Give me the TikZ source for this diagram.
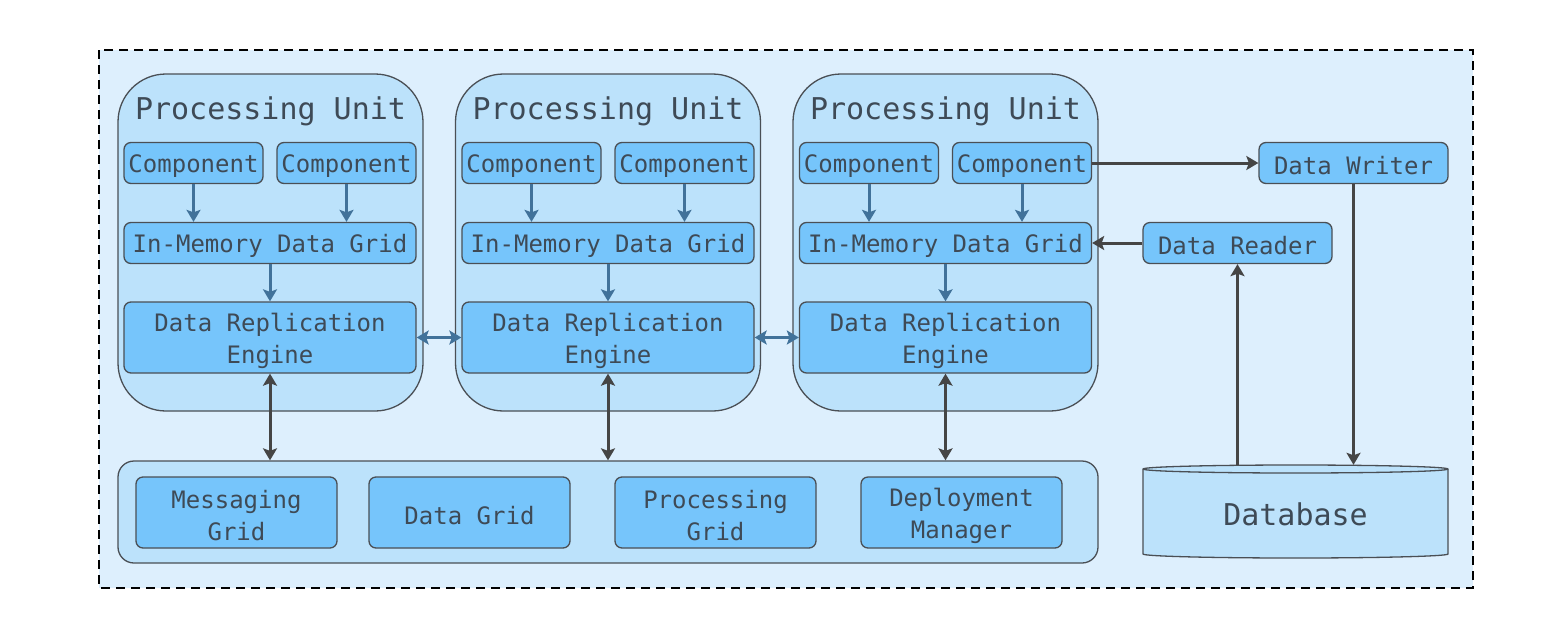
\documentclass[tikz,border=0pt]{standalone}
\usepackage{fontspec}
\setmonofont{DejaVu Sans Mono}
\usetikzlibrary{arrows.meta}
\definecolor{outerfill}{HTML}{DDEFFD}
\definecolor{pufill}{HTML}{BCE2FB}
\definecolor{boxfill}{HTML}{76C5FB}
\definecolor{edge}{HTML}{4A4F55}
\definecolor{txt}{HTML}{3E4A56}
\definecolor{flow}{HTML}{41729A}
\definecolor{dark}{HTML}{454545}
% text sits a little low in its box
\newcommand{\dn}[1]{\raisebox{-3pt}[\height][\depth]{#1}}
\begin{document}
\begin{tikzpicture}[x=1pt,y=-1pt,
  unit/.style={draw=edge,fill=pufill,line width=1.3pt,rounded corners=48pt,minimum width=305pt,minimum height=337pt},
  part/.style={draw=edge,fill=boxfill,line width=1.3pt,rounded corners=7pt,minimum height=41pt,font=\ttfamily\fontsize{24}{32}\selectfont,text=txt,inner sep=0pt,align=center},
  title/.style={font=\ttfamily\fontsize{30}{36}\selectfont,text=txt},
  flowarr/.style={flow,line width=3pt,>={Stealth[length=12pt,width=14pt,inset=2.5pt]}},
  darkarr/.style={dark,line width=3pt,>={Stealth[length=12pt,width=14pt,inset=2.5pt]}}]
\useasboundingbox (0,0) rectangle (1566,638);
\draw[fill=outerfill,draw=black,line width=1.8pt,dash pattern=on 9pt off 6pt] (99,50) rectangle (1473,588);

% processing units
\node[unit] (pu1) at (270.5,242.5) {};
\node[unit] (pu2) at (608,242.5) {};
\node[unit] (pu3) at (945.5,242.5) {};
\node[title] (t1) at (270.5,108) {\dn{Processing Unit}};
\node[title] (t2) at (608,108) {\dn{Processing Unit}};
\node[title] (t3) at (945.5,108) {\dn{Processing Unit}};

\node[part,minimum width=139pt] (c1a) at (193.5,163) {\dn{Component}};
\node[part,minimum width=139pt] (c1b) at (346.5,163) {\dn{Component}};
\node[part,minimum width=292pt] (g1) at (270,243) {\dn{In-Memory Data Grid}};
\node[part,minimum width=292pt,minimum height=71pt] (r1) at (270,337.5) {\dn{Data Replication}\\\dn{Engine}};

\node[part,minimum width=139pt] (c2a) at (531.5,163) {\dn{Component}};
\node[part,minimum width=139pt] (c2b) at (684.5,163) {\dn{Component}};
\node[part,minimum width=292pt] (g2) at (608,243) {\dn{In-Memory Data Grid}};
\node[part,minimum width=292pt,minimum height=71pt] (r2) at (608,337.5) {\dn{Data Replication}\\\dn{Engine}};

\node[part,minimum width=139pt] (c3a) at (869,163) {\dn{Component}};
\node[part,minimum width=139pt] (c3b) at (1022,163) {\dn{Component}};
\node[part,minimum width=292pt] (g3) at (945.5,243) {\dn{In-Memory Data Grid}};
\node[part,minimum width=292pt,minimum height=71pt] (r3) at (945.5,337.5) {\dn{Data Replication}\\\dn{Engine}};

\draw[->,flowarr] (c1a.south) -- (c1a.south |- g1.north);
\draw[->,flowarr] (c1b.south) -- (c1b.south |- g1.north);
\draw[->,flowarr] (g1.south) -- (r1.north);
\draw[->,flowarr] (c2a.south) -- (c2a.south |- g2.north);
\draw[->,flowarr] (c2b.south) -- (c2b.south |- g2.north);
\draw[->,flowarr] (g2.south) -- (r2.north);
\draw[->,flowarr] (c3a.south) -- (c3a.south |- g3.north);
\draw[->,flowarr] (c3b.south) -- (c3b.south |- g3.north);
\draw[->,flowarr] (g3.south) -- (r3.north);
\draw[<->,flowarr] (r1.east) -- (r2.west);
\draw[<->,flowarr] (r2.east) -- (r3.west);

% grid services
\node[unit,rounded corners=16pt,minimum width=980pt,minimum height=102pt] (bus) at (608,512) {};
\node[part,minimum width=201pt,minimum height=71pt] (msg) at (236.5,512.5) {\dn{Messaging}\\\dn{Grid}};
\node[part,minimum width=201pt,minimum height=71pt] (dgrid) at (469.5,512.5) {\dn{Data Grid}};
\node[part,minimum width=201pt,minimum height=71pt] (pgrid) at (715.5,512.5) {\dn{Processing}\\\dn{Grid}};
\node[part,minimum width=201pt,minimum height=71pt] (dman) at (961.5,512.5) {\dn{Deployment}\\\dn{Manager}};
\draw[<->,darkarr] (r1.south) -- (r1.south |- bus.north);
\draw[<->,darkarr] (r2.south) -- (r2.south |- bus.north);
\draw[<->,darkarr] (r3.south) -- (r3.south |- bus.north);

% storage
\node[part,minimum width=189pt] (dw) at (1353.5,163) {\dn{Data Writer}};
\node[part,minimum width=189pt] (dr) at (1237.5,243) {\dn{Data Reader}};
\draw[fill=pufill,draw=edge,line width=1.3pt] (1143,469) -- (1143,554)
  arc[start angle=180,end angle=360,x radius=152.5pt,y radius=4pt] -- (1448,469)
  arc[start angle=0,end angle=180,x radius=152.5pt,y radius=4pt] -- cycle;
\draw[draw=edge,line width=1.3pt] (1143,469) arc[start angle=180,end angle=360,x radius=152.5pt,y radius=4pt];
\node[title,minimum width=305pt,minimum height=93pt] (db) at (1295.5,511.5) {\dn{Database}};
\draw[->,darkarr] (c3b.east) -- (dw.west);
\draw[->,darkarr] (dr.west) -- (g3.east);
\draw[->,darkarr] (dr.south |- db.north) -- (dr.south);
\draw[->,darkarr] (dw.south) -- (dw.south |- db.north);
\end{tikzpicture}
\end{document}
